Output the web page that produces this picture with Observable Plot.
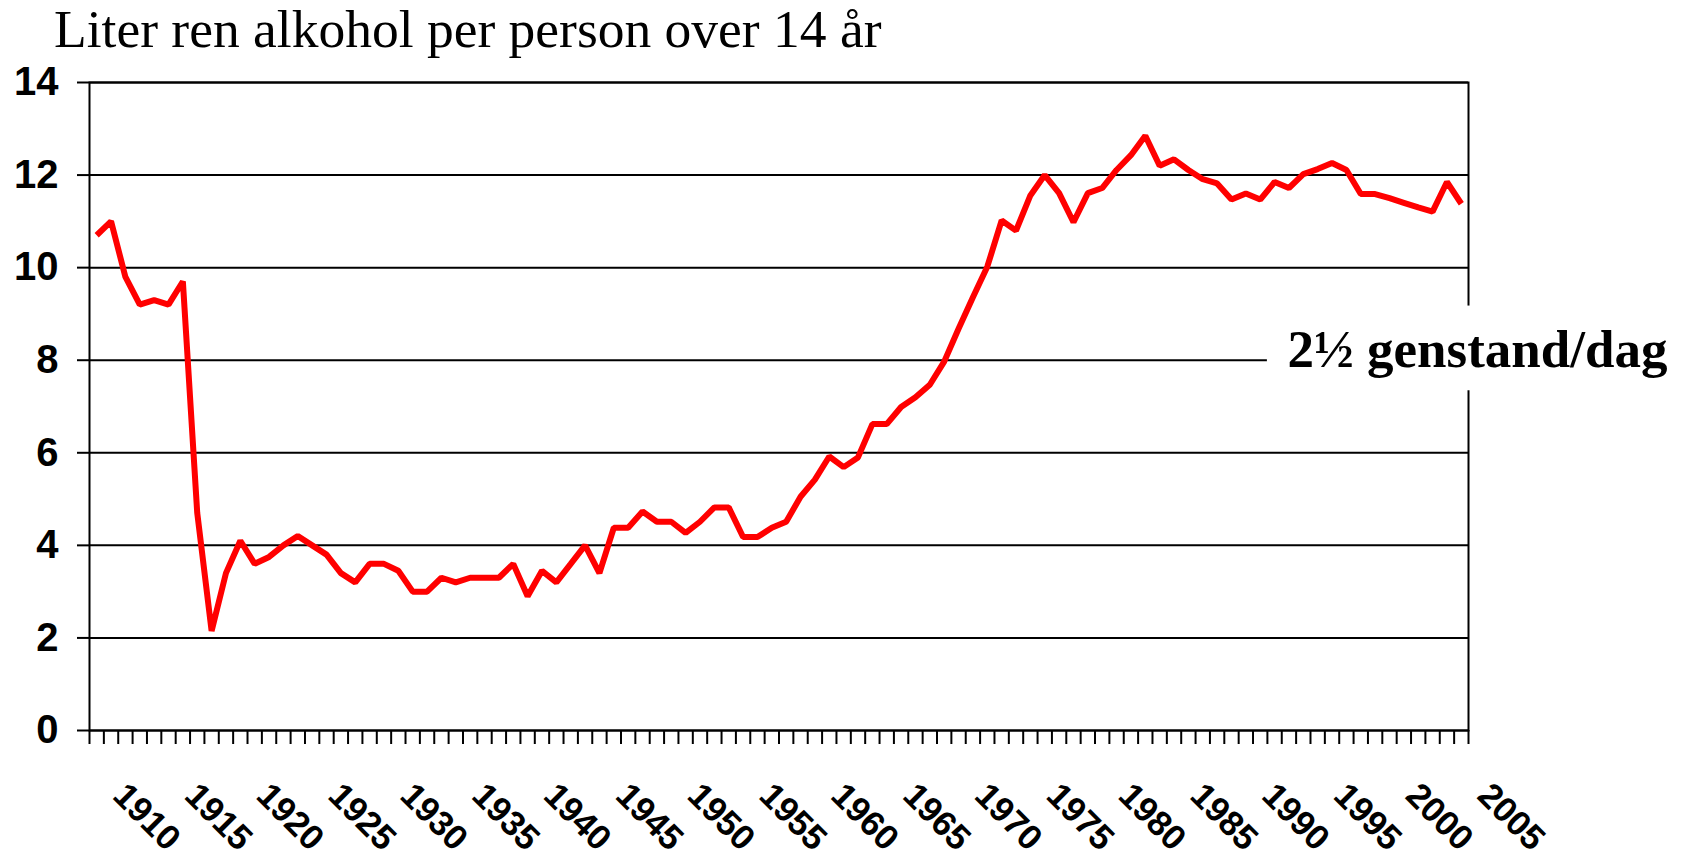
<!DOCTYPE html>
<html>
<head>
<meta charset="utf-8">
<script src="https://cdn.jsdelivr.net/npm/d3@7"></script>
<script src="https://cdn.jsdelivr.net/npm/@observablehq/plot@0.6"></script>
<style>
  body { margin: 0; background: #fff; width: 1690px; height: 860px; overflow: hidden; }
  #title { height: 62px; box-sizing: border-box; padding-left: 54px; padding-top: 3px;
           font-family: "Liberation Serif", "Times New Roman", serif; font-size: 53.5px; line-height: 52px;
           color: #000; white-space: nowrap; }
  #chart svg { display: block; }
</style>
</head>
<body>
<div id="title">Liter ren alkohol per person over 14 år</div>
<div id="chart"></div>
<script>
// Categories: one per year, 1909–2004
const years = d3.range(1909, 2005);
// Liters of pure alcohol per person over 14 years
const consumption = [
  10.7, 11.0, 9.8, 9.2, 9.3, 9.2, 9.7, 4.7, 2.15, 3.4,      // 1909-1918
  4.1, 3.6, 3.75, 4.0, 4.2, 4.0, 3.8, 3.4, 3.2, 3.6,        // 1919-1928
  3.6, 3.45, 3.0, 3.0, 3.3, 3.2, 3.3, 3.3, 3.3, 3.6,        // 1929-1938
  2.9, 3.45, 3.2, 3.6, 4.0, 3.4, 4.38, 4.38, 4.73, 4.51,    // 1939-1948
  4.51, 4.27, 4.51, 4.82, 4.82, 4.18, 4.18, 4.38, 4.51, 5.05, // 1949-1958
  5.42, 5.92, 5.69, 5.9, 6.62, 6.62, 6.99, 7.2, 7.47, 7.97, // 1959-1968
  8.68, 9.36, 10.02, 11.02, 10.8, 11.56, 12.0, 11.61, 10.98, 11.61, // 1969-1978
  11.72, 12.11, 12.43, 12.85, 12.2, 12.34, 12.11, 11.91, 11.82, 11.47, // 1979-1988
  11.6, 11.47, 11.85, 11.72, 12.02, 12.13, 12.26, 12.11, 11.59, 11.59, // 1989-1998
  11.5, 11.4, 11.3, 11.21, 11.85, 11.38                      // 1999-2004
];
const yTicks = [0, 2, 4, 6, 8, 10, 12, 14];
const labelYears = [1910, 1915, 1920, 1925, 1930, 1935, 1940, 1945, 1950, 1955,
                    1960, 1965, 1970, 1975, 1980, 1985, 1990, 1995, 2000, 2005];
const annotation = [{text: "2½ genstand/dag", x: 1991.9, y: 8}];
const annotationBox = [{x1: 1990.5, x2: 2020, y1: 7.34, y2: 9.17}];

const data = years.map((year, i) => ({year, value: consumption[i]}));
const bounds = years.map(y => y - 0.5).concat([years[years.length - 1] + 0.5]);

const chart = Plot.plot({
  width: 1690,
  height: 798,
  marginTop: 20,
  marginBottom: 130,
  marginLeft: 89,
  marginRight: 222,
  x: {domain: [bounds[0], bounds[bounds.length - 1]]},
  y: {domain: [0, 14]},
  style: {background: "white", color: "black", overflow: "visible"},
  marks: [
    Plot.gridY(yTicks, {stroke: "black", strokeOpacity: 1, strokeWidth: 2}),
    Plot.frame({stroke: "black", strokeWidth: 2}),
    Plot.axisY(yTicks, {tickSize: 12, tickPadding: 19, fontSize: 40, fontWeight: "bold",
      fontFamily: "Liberation Sans", strokeWidth: 2, tickFormat: d => String(d), label: null}),
    Plot.axisX(bounds, {tickSize: 14, tickFormat: () => "", strokeWidth: 2, label: null}),
    Plot.axisX(labelYears, {tickSize: 0, tickPadding: 59, tickRotate: 45, dx: 8, fontSize: 35,
      fontWeight: "bold", fontFamily: "Liberation Sans", tickFormat: d => String(d), label: null}),
    Plot.lineY(data, {x: "year", y: "value", stroke: "#ff0000", strokeWidth: 6,
      strokeLinejoin: "miter", strokeLinecap: "butt"}),
    Plot.rect(annotationBox, {x1: "x1", x2: "x2", y1: "y1", y2: "y2", fill: "white"}),
    Plot.text(annotation, {x: "x", y: "y", text: "text", textAnchor: "start", fontSize: 53,
      fontWeight: "bold", fontFamily: "Liberation Serif", fill: "black", dy: -10})
  ]
});
document.getElementById("chart").appendChild(chart);
</script>
</body>
</html>
